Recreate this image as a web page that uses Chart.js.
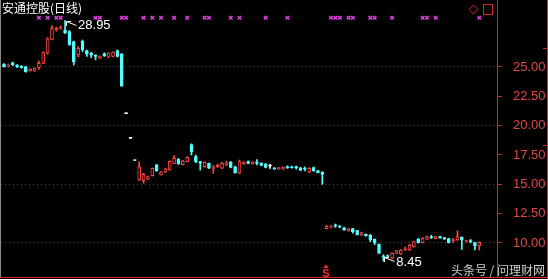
<!DOCTYPE html>
<html><head><meta charset="utf-8">
<script src="https://cdn.jsdelivr.net/npm/chart.js@4"></script>
<style>html,body{margin:0;padding:0;background:#000;}canvas{display:block;}</style>
</head><body>
<canvas id="c" width="548" height="279"></canvas>
<script>
const title = '安通控股(日线)';
const watermark = '头条号 / 问理财网';

const opens = [
25.23,25.06,25.37,25.17,25.08,25.03,24.68,24.66,24.97,25.31,
26.17,27.36,28.15,28.24,28.15,28.01,27.16,26.02,27.19,26.39,
26.19,25.93,25.77,26.15,25.83,25.90,26.39,26.10,21.02,18.92,
17.03,15.37,15.31,15.43,15.74,16.67,15.80,16.05,16.22,16.79,
17.13,16.67,16.93,18.38,17.36,16.93,16.50,16.79,16.35,16.50,
16.37,16.64,16.88,16.50,15.94,16.73,16.93,16.73,16.90,16.79,
16.73,16.55,16.40,16.30,16.32,16.48,16.50,16.45,16.40,16.38,
16.03,16.42,16.17,16.03,11.23,11.34,11.55,11.45,11.30,11.05,
11.22,11.05,10.66,10.74,10.68,10.32,9.89,8.85,8.93,8.70,
9.12,9.04,9.42,9.40,9.69,10.32,10.03,10.32,10.55,10.37,
10.55,10.45,10.37,10.20,10.26,10.49,10.08,10.20,10.03,9.74];

const closes = [
25.03,25.17,25.17,25.03,24.94,24.60,24.83,24.89,25.31,26.22,
27.41,28.27,28.32,28.35,27.90,26.88,25.45,26.60,26.47,26.10,
26.00,25.90,25.90,25.95,26.19,26.28,25.90,23.36,21.02,18.92,
17.03,16.50,15.86,15.65,16.37,16.16,16.05,16.33,16.96,17.22,
16.73,17.00,17.30,17.78,16.93,16.80,16.88,16.37,16.45,16.67,
16.79,16.84,16.45,15.99,16.93,16.88,16.79,16.88,16.78,16.62,
16.45,16.55,16.30,16.40,16.45,16.42,16.40,16.42,16.20,16.30,
16.37,16.14,16.00,15.85,11.45,11.45,11.44,11.35,11.11,11.22,
10.96,10.71,10.88,10.60,10.26,10.03,9.12,8.80,8.85,9.12,
9.34,9.40,9.50,9.83,10.11,10.03,10.40,10.54,10.45,10.54,
10.42,10.32,10.03,10.30,10.54,10.26,10.20,10.12,9.74,10.06];

const highs = [
25.30,25.25,25.42,25.20,25.12,25.05,24.88,24.92,25.50,26.30,
27.50,28.50,28.40,28.50,28.95,28.10,27.20,26.75,27.30,26.45,
26.25,26.05,25.95,26.20,26.22,26.30,26.45,26.15,21.02,18.92,
17.03,16.93,15.95,15.70,16.40,16.70,16.10,16.38,17.00,17.45,
17.20,17.05,17.35,18.45,17.50,16.95,16.92,16.82,16.62,16.72,
16.85,16.95,16.95,16.55,17.07,16.92,17.00,16.92,17.10,16.85,
16.78,16.70,16.42,16.45,16.50,16.58,16.55,16.55,16.45,16.50,
16.42,16.48,16.20,16.08,11.50,11.50,11.62,11.48,11.35,11.25,
11.25,11.08,10.92,10.77,10.72,10.35,9.92,9.00,8.98,9.15,
9.38,9.45,9.65,9.88,10.15,10.38,10.45,10.58,10.65,10.58,
10.58,10.48,10.40,10.40,11.05,10.52,10.22,10.30,10.06,10.10];

const lows = [
24.98,25.00,25.12,24.95,24.90,24.55,24.65,24.62,24.80,25.28,
26.10,27.30,28.05,28.20,27.85,26.85,25.17,25.85,26.30,25.90,
25.80,25.60,25.70,25.90,25.80,25.85,25.85,23.36,21.02,18.92,
17.03,15.33,15.09,15.40,15.70,16.10,15.78,16.00,16.20,16.75,
16.70,16.65,16.90,17.50,16.85,16.22,16.45,16.33,15.94,16.45,
16.33,16.60,16.40,15.95,15.90,16.70,16.75,16.70,16.65,16.58,
16.40,16.35,16.28,16.28,16.28,16.35,16.38,16.30,16.15,16.15,
16.00,16.10,15.97,15.00,11.20,11.30,11.33,11.30,11.08,11.00,
10.83,10.68,10.62,10.57,10.11,9.86,9.10,8.45,8.80,8.65,
9.10,9.00,9.35,9.37,9.65,10.00,10.00,10.30,10.38,10.35,
10.40,10.30,10.00,10.03,10.22,9.46,10.05,10.00,9.40,9.40];

const signalDays = [8,10,12,13,21,22,27,28,32,34,36,39,42,46,47,52,54,60,65,75,76,77,79,80,84,85,89,96,97,99,109];
const signalLevel = 29.2;
const suspendDay = 74;
const yTicks = [10, 12.5, 15, 17.5, 20, 22.5, 25];

const UP = '#ff4646', DOWN = '#54fcfc', FLAT = '#ffffff';
const AXIS = '#d02a2a';
const dirs = opens.map((o, i) => closes[i] > o ? 1 : (closes[i] < o ? -1 : 0));
const colorOf = d => d > 0 ? UP : (d < 0 ? DOWN : FLAT);

const decor = {
  id: 'decor',
  beforeDraw(chart) {
    const c = chart.ctx;
    c.save(); c.fillStyle = '#000'; c.fillRect(0, 0, chart.width, chart.height); c.restore();
  },
  afterDraw(chart) {
    const c = chart.ctx, xs = chart.scales.x, ys = chart.scales.y;
    c.save();
    c.fillStyle = '#8a8a8a'; c.fillRect(0, 0, 1, 278);
    c.fillStyle = AXIS;
    c.fillRect(0, 277, 548, 1);
    c.fillRect(547, 0, 1, 279);
    c.fillRect(543, 48, 4, 1);
    c.fillRect(543, 145, 4, 1);
    c.strokeStyle = AXIS; c.lineWidth = 1;
    c.beginPath(); c.moveTo(473.5, 5); c.lineTo(478, 9.5); c.lineTo(473.5, 14); c.lineTo(469, 9.5); c.closePath(); c.stroke();
    c.strokeRect(483.5, 4.5, 9, 10);
    c.fillStyle = '#ffffff';
    c.font = '12px "Noto Sans CJK SC"';
    c.textBaseline = 'top'; c.textAlign = 'left';
    c.fillText(title, 2, 2);
    let hi = 0, lo = 0;
    highs.forEach((v, i) => { if (v > highs[hi]) hi = i; });
    lows.forEach((v, i) => { if (v < lows[lo]) lo = i; });
    c.strokeStyle = '#ffffff'; c.fillStyle = '#ffffff';
    c.font = '13px "Liberation Sans", Arial';
    c.textBaseline = 'middle';
    const arrow = (tx, ty) => {
      c.beginPath();
      c.moveTo(tx, ty); c.lineTo(tx + 10, ty + 4);
      c.moveTo(tx, ty); c.lineTo(tx + 4.5, ty);
      c.moveTo(tx, ty); c.lineTo(tx, ty + 4.5);
      c.stroke();
    };
    let px = xs.getPixelForValue(hi), py = ys.getPixelForValue(highs[hi]);
    arrow(Math.round(px) + 1.5, Math.round(py) + 0.5);
    c.fillText(highs[hi].toFixed(2), px + 13, py + 5);
    px = xs.getPixelForValue(lo); py = ys.getPixelForValue(lows[lo]);
    arrow(Math.round(px) + 1.5, Math.round(py) - 3.5);
    c.fillText(lows[lo].toFixed(2), px + 13, py + 1);
    const sx = Math.round(xs.getPixelForValue(suspendDay)) - 1;
    c.fillStyle = '#ff2a2a';
    c.beginPath(); c.moveTo(sx, 264.5); c.lineTo(sx - 2.5, 268); c.lineTo(sx + 2.5, 268); c.closePath(); c.fill();
    c.font = 'bold 11px "Liberation Sans", Arial';
    c.textAlign = 'center'; c.textBaseline = 'alphabetic';
    c.fillText('S', sx, 277);
    c.fillStyle = '#cfcfcf';
    c.font = '12px "Noto Sans CJK SC"';
    c.textAlign = 'right'; c.textBaseline = 'middle';
    c.fillText(watermark, 545, 270);
    c.restore();
  }
};

new Chart(document.getElementById('c'), {
  type: 'bar',
  data: {
    datasets: [
      {
        type: 'scatter',
        data: signalDays.map(d => ({x: d, y: signalLevel})),
        pointStyle: 'crossRot', radius: 2.5, borderWidth: 1.5,
        borderColor: '#e040e0', backgroundColor: '#e040e0',
        order: 0
      },
      {
        data: opens.map((o, i) => ({x: i, y: [o, closes[i]]})),
        backgroundColor: dirs.map(d => d > 0 ? '#000000' : colorOf(d)),
        borderColor: dirs.map(colorOf),
        borderWidth: 1, borderSkipped: false,
        barThickness: 3, minBarLength: 1, grouped: false,
        order: 1
      },
      {
        data: lows.map((l, i) => ({x: i, y: [l, highs[i]]})),
        backgroundColor: dirs.map(colorOf),
        borderWidth: 0, barThickness: 1, grouped: false,
        order: 2
      }
    ]
  },
  options: {
    responsive: false, animation: false, events: [],
    layout: {padding: {left: 1, right: 0, top: 0, bottom: 2}, autoPadding: false},
    plugins: {legend: {display: false}, tooltip: {enabled: false}},
    scales: {
      x: {type: 'linear', display: false, min: -0.69, max: 113.06, offset: false},
      y: {
        position: 'right', min: 7.1, max: 30.71,
        afterBuildTicks: s => { s.ticks = yTicks.map(v => ({value: v})); },
        afterFit: s => { s.width = 51; s.paddingTop = 0; s.paddingBottom = 0; },
        ticks: {color: '#e04848', font: {family: '"Liberation Sans", Arial', size: 13}, padding: 11,
                callback: v => Number(v).toFixed(2)},
        grid: {
          color: ctx => (ctx.tick && ctx.tick.value % 5 === 0) ? '#a82020' : 'rgba(0,0,0,0)',
          tickColor: AXIS, tickLength: 5, lineWidth: 1
        },
        border: {color: AXIS, width: 1, dash: [1, 3]}
      }
    }
  },
  plugins: [decor]
});
</script>
</body></html>
